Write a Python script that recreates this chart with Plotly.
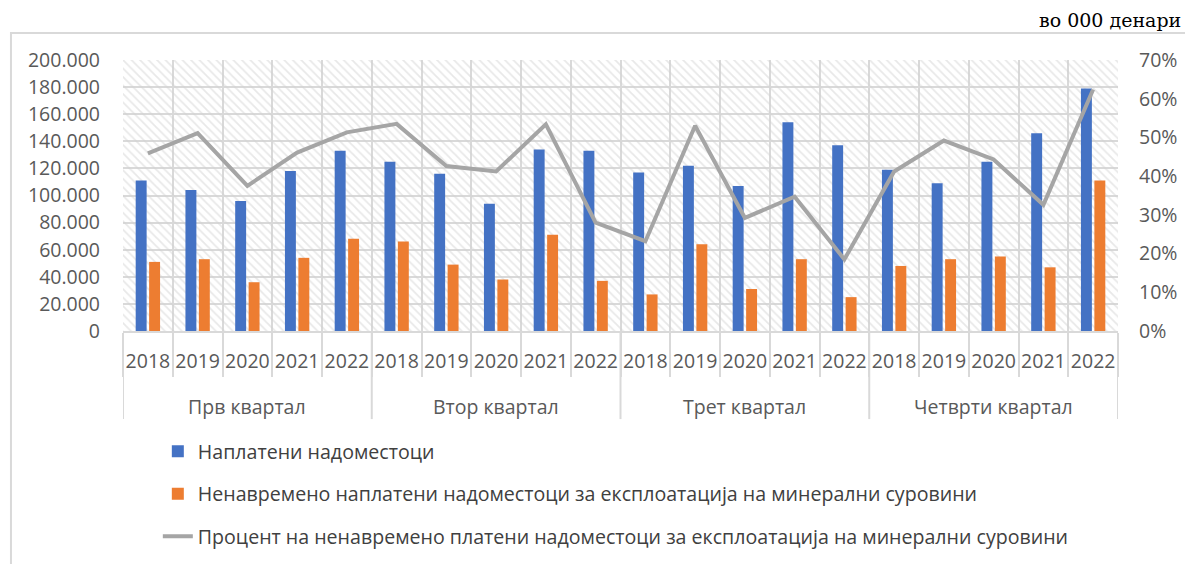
import plotly.graph_objects as go

quarters = ["Прв квартал", "Втор квартал", "Трет квартал", "Четврти квартал"]
years = ["2018", "2019", "2020", "2021", "2022"]

paid = [111000, 104000, 96000, 118000, 133000,
        125000, 116000, 94000, 134000, 133000,
        117000, 122000, 107000, 154000, 137000,
        119000, 109000, 125000, 146000, 179000]
late = [51000, 53000, 36000, 54000, 68000,
        66000, 49000, 38000, 71000, 37000,
        27000, 64000, 31000, 53000, 25000,
        48000, 53000, 55000, 47000, 111000]
pct = [0.459, 0.511, 0.375, 0.461, 0.513,
       0.535, 0.426, 0.412, 0.534, 0.280,
       0.232, 0.530, 0.292, 0.347, 0.185,
       0.412, 0.492, 0.443, 0.326, 0.624]

name_paid = "Наплатени надоместоци"
name_late = "Ненавремено наплатени надоместоци за експлоатација на минерални суровини"
name_pct = "Процент на ненавремено платени надоместоци за експлоатација на минерални суровини"

ny = len(years)
nq = len(quarters)
n = ny * nq
pos = list(range(n))
year_labels = [y for _ in quarters for y in years]
bounds = [i - 0.5 for i in range(n + 1)]
group_bounds = [g * ny - 0.5 for g in range(nq + 1)]
group_centers = [g * ny + (ny - 1) / 2 for g in range(nq)]

FONT = "Open Sans"
TXT = "#595959"
GRID = "#d9d9d9"

fig = go.Figure()

# hatched plot-area background
fig.add_trace(go.Bar(
    x=pos, y=[200000] * n, width=1,
    marker=dict(color="rgba(0,0,0,0)", line=dict(width=0),
                pattern=dict(shape="\\", fgcolor="#d2d2d2", bgcolor="rgba(0,0,0,0)",
                             size=6, solidity=0.3, fillmode="overlay")),
    showlegend=False, hoverinfo="skip"))

fig.add_trace(go.Bar(x=pos, y=paid, name=name_paid, width=0.22, offset=-0.245,
                     marker=dict(color="#4472c4", line=dict(width=0)),
                     legendgroup="a"))
fig.add_trace(go.Bar(x=pos, y=late, name=name_late, width=0.22, offset=0.025,
                     marker=dict(color="#ed7d31", line=dict(width=0)),
                     legendgroup="b"))
fig.add_trace(go.Scatter(x=pos, y=pct, name=name_pct, yaxis="y2", mode="lines",
                         line=dict(color="#a5a5a5", width=4),
                         legendgroup="c"))

shapes = [dict(type="rect", xref="paper", yref="paper",
               x0=-0.1126, x1=1.08, y0=-0.95, y1=1.0996,
               line=dict(color=GRID, width=2), fillcolor="rgba(0,0,0,0)",
               layer="below")]
for b in group_bounds:
    shapes.append(dict(type="line", xref="x", yref="paper", x0=b, x1=b,
                       y0=0, y1=-0.325, line=dict(color=GRID, width=2)))

annotations = [dict(text="во 000 денари", xref="paper", yref="paper",
                    x=1.0653, y=1.147, xanchor="right", yanchor="middle",
                    showarrow=False,
                    font=dict(family="DejaVu Serif", size=19, color="#000000"))]
for q, c in zip(quarters, group_centers):
    annotations.append(dict(text=q, xref="x", yref="paper", x=c, y=-0.277,
                            xanchor="center", yanchor="middle", showarrow=False,
                            font=dict(family=FONT, size=19.5, color=TXT)))

fig.update_layout(
    width=1185, height=556,
    margin=dict(l=115, r=75, t=52, b=233, autoexpand=False),
    paper_bgcolor="white", plot_bgcolor="white",
    barmode="overlay",
    separators=",.",
    font=dict(family=FONT, color=TXT, size=19),
    xaxis=dict(range=[-0.5, n - 0.5], tickmode="array", tickvals=pos,
               ticktext=year_labels, tickangle=0, ticks="", showgrid=False,
               zeroline=False, showline=True, linecolor=GRID, linewidth=2,
               ticklabelstandoff=12, automargin=False,
               minor=dict(tickmode="array", tickvals=bounds, showgrid=True,
                          gridcolor=GRID, gridwidth=2, ticks="outside",
                          ticklen=44, tickcolor=GRID, tickwidth=2),
               tickfont=dict(size=19.5, color=TXT, family=FONT)),
    yaxis=dict(range=[0, 200000], dtick=20000, tickformat=",d", showgrid=True,
               gridcolor=GRID, gridwidth=2, zeroline=False, showline=False,
               automargin=False,
               ticklabelstandoff=22, tickfont=dict(size=19.5, color=TXT, family=FONT)),
    yaxis2=dict(range=[0, 0.7], dtick=0.1, tickformat=".0%", overlaying="y",
                side="right", showgrid=False, zeroline=False, showline=False,
                automargin=False,
                ticklabelstandoff=20, tickfont=dict(size=19.5, color=TXT, family=FONT)),
    legend=dict(orientation="v", x=0.035, xanchor="left", y=-0.373, yanchor="top",
                traceorder="grouped", tracegroupgap=14,
                font=dict(size=19.6, color="#404040", family=FONT),
                bgcolor="rgba(0,0,0,0)"),
    shapes=shapes,
    annotations=annotations,
)

fig.write_html("out.html")
